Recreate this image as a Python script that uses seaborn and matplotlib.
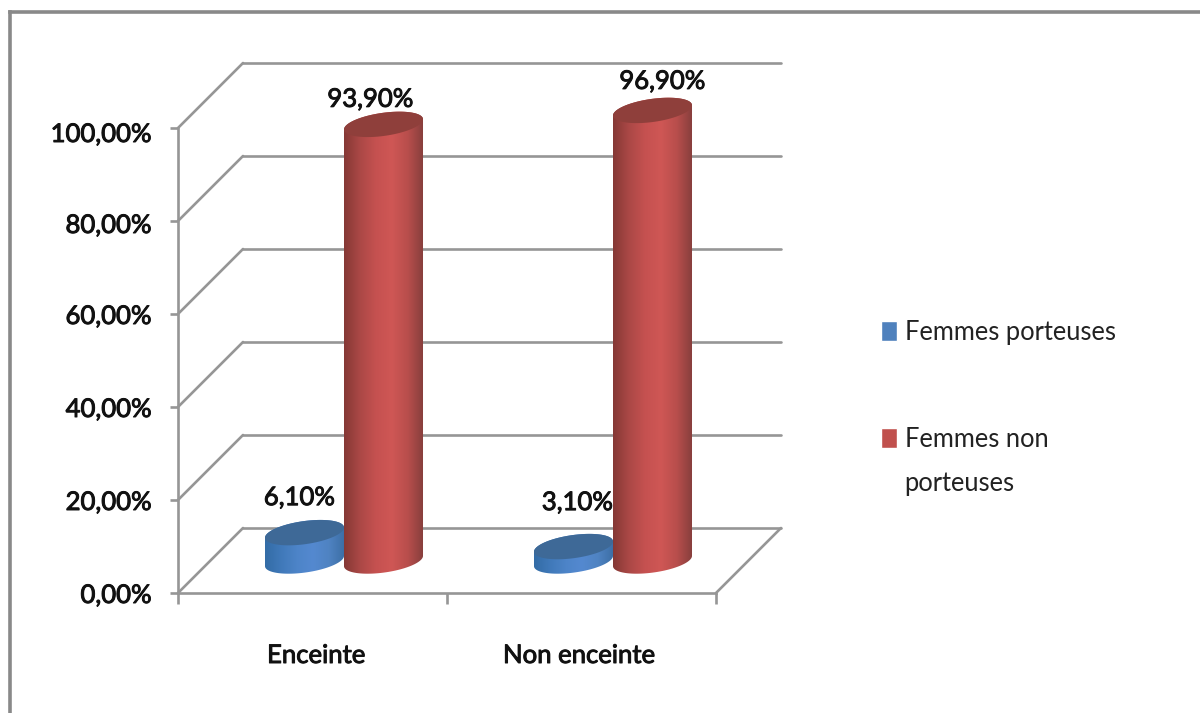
import numpy as np
import pandas as pd
import matplotlib
matplotlib.use("Agg")
import matplotlib.pyplot as plt
import matplotlib.patheffects as pe
import seaborn as sns
from matplotlib.colors import LinearSegmentedColormap
from matplotlib.lines import Line2D
from matplotlib.patches import Polygon
from matplotlib.transforms import Affine2D

# Survey values
categories = ["Enceinte", "Non enceinte"]
series_names = ["Femmes porteuses", "Femmes non porteuses"]
porteuses = [6.1, 3.1]
non_porteuses = [93.9, 96.9]
value_labels = [["6,10%", "3,10%"], ["93,90%", "96,90%"]]
y_ticks = [0, 20, 40, 60, 80, 100]
y_tick_labels = ["0,00%", "20,00%", "40,00%", "60,00%", "80,00%", "100,00%"]

W, H = 1200, 713
DPI = 100
GRID = "#969696"
TEXT = "#111111"
FONT = ["Lato", "DejaVu Sans"]
LABEL_SIZE = 18.5
HEAVY = [pe.withStroke(linewidth=0.7, foreground=TEXT)]

sns.set_theme(style="white")
plt.rcParams["font.family"] = FONT


def box(x0, y_top, x1, y_bottom):
    """Axes rectangle from pixel edges measured from the top-left corner."""
    return [x0 / W, 1 - y_bottom / H, (x1 - x0) / W, (y_bottom - y_top) / H]


def nudge(text, dx, dy):
    """Shift a tick label by a few pixels."""
    text.set_transform(text.get_transform() + Affine2D().translate(dx, dy))


fig = plt.figure(figsize=(W / DPI, H / DPI), dpi=DPI, facecolor="white")

# Outer chart frame: only the top and left edges fall inside the canvas
for xs, ys in (([9.5, 9.5], [0, 11.5]), ([9.5, W], [11.5, 11.5])):
    fig.add_artist(Line2D(np.array(xs) / W, [1 - v / H if v else 0 for v in ys],
                          color="#898989", lw=2.6, solid_capstyle="projecting"))

# Front plane: carries the value axis, the category axis and the wall grid
front = fig.add_axes(box(178, 128, 716, 593))
front.set_xlim(-0.5, 1.5)
front.set_ylim(0, 100)
for side in ("top", "right"):
    front.spines[side].set_visible(False)
for side in ("left", "bottom"):
    front.spines[side].set_color(GRID)
    front.spines[side].set_linewidth(1.9)

front.set_yticks(y_ticks, y_tick_labels, fontsize=LABEL_SIZE, color=TEXT)
front.tick_params(axis="y", length=6, width=1.9, color=GRID, pad=13, left=True)
front.set_xticks([-0.5, 0.5, 1.5], ["", "", ""])
front.tick_params(axis="x", which="major", length=8, width=1.9, color=GRID, bottom=True)
front.set_xticks([0, 1], categories, minor=True, fontsize=LABEL_SIZE, color=TEXT)
front.tick_params(axis="x", which="minor", length=0, pad=36)

fig.canvas.draw()
for label in front.get_yticklabels() + front.get_xticklabels(minor=True):
    label.set_path_effects(HEAVY)
y_labels = front.get_yticklabels()
nudge(y_labels[-1], 0, -4)
nudge(y_labels[-2], 0, -2)
x_labels = front.get_xticklabels(minor=True)
nudge(x_labels[0], 4, 0)
nudge(x_labels[1], -2, 0)

# Receding wall and floor lines, shifted back by the chart's depth
back = front.transData + Affine2D().translate(65, 65)
for tick in y_ticks:
    depth = Line2D([0, 65], [0, 65], color=GRID, lw=1.9, clip_on=False,
                   transform=Affine2D().translate(*front.transData.transform((-0.5, tick))))
    front.add_line(depth)
    front.plot([-0.5, 1.5], [tick, tick], color=GRID, lw=1.9, clip_on=False, transform=back)
front.add_line(Line2D([0, 65], [0, 65], color=GRID, lw=1.9, clip_on=False,
                      transform=Affine2D().translate(*front.transData.transform((1.5, 0)))))

# Mid-depth plane: the cylinders stand here
bars_ax = fig.add_axes(box(209.5, 96, 747.5, 561))
bars_ax.patch.set_visible(False)

frame = pd.DataFrame({
    "categorie": categories * 2,
    "groupe": [series_names[0]] * 2 + [series_names[1]] * 2,
    "valeur": porteuses + non_porteuses,
})
sns.barplot(data=frame, x="categorie", y="valeur", hue="groupe", hue_order=series_names,
            palette=["#4f81bd", "#c0504d"], width=0.5874, ax=bars_ax, saturation=1,
            errorbar=None)
handles, _ = bars_ax.get_legend_handles_labels()
bars_ax.get_legend().remove()
bars_ax.set_xlim(-0.5, 1.5)
bars_ax.set_ylim(0, 100)

side_colours = [
    ["#336ca6", "#4079b9", "#4d84c8", "#5489d0", "#4f83c2", "#3c6ea5"],
    ["#853835", "#ab4846", "#c55150", "#cf5755", "#b84e4c", "#853e3c"],
]
cap_colours = ["#3e6997", "#8f3f3b"]
label_offsets = [[(-5, 35), (4, 44)], [(-13, 25), (10, 29)]]

# Half-height of the end ellipses and their tilt, in value units
cap_half = 2.5
cap_tilt = 1.1
t = np.linspace(0, 2 * np.pi, 181)
lower = np.linspace(np.pi, 2 * np.pi, 91)
upper = np.linspace(0, np.pi, 91)


def cap_outline(xc, half_width, level, angles):
    return np.column_stack([
        xc + half_width * np.cos(angles),
        level + cap_tilt * np.cos(angles) + cap_half * np.sin(angles),
    ])


for s, container in enumerate(bars_ax.containers):
    cmap = LinearSegmentedColormap.from_list(f"side{s}", side_colours[s])
    z = 2 if s == 0 else 4
    for c, bar in enumerate(container):
        left, width, value = bar.get_x(), bar.get_width(), bar.get_height()
        bar.set_visible(False)
        xc, half = left + width / 2, width / 2

        base = cap_outline(xc, half, 0, lower)
        top = cap_outline(xc, half, value, upper)
        body = Polygon(np.vstack([top, base]), closed=True, facecolor="none", edgecolor="none",
                       transform=bars_ax.transData)
        bars_ax.add_patch(body)
        shade = bars_ax.imshow(np.linspace(0, 1, 256)[None, :], cmap=cmap, aspect="auto",
                               extent=[left, left + width, -5, value + 5],
                               interpolation="bilinear", zorder=z)
        shade.set_clip_path(body)
        shade.set_clip_box(fig.bbox)

        cap = Polygon(cap_outline(xc, half, value, t), closed=True,
                      facecolor=cap_colours[s], edgecolor="none", zorder=z + 0.1)
        bars_ax.add_patch(cap)
        cap.set_clip_on(False)
        bars_ax.annotate(value_labels[s][c], (xc, value), xytext=label_offsets[s][c],
                         textcoords="offset pixels", ha="center", va="center",
                         fontsize=LABEL_SIZE, path_effects=HEAVY,
                         color=TEXT, zorder=3, annotation_clip=False)

bars_ax.set_xlim(-0.5, 1.5)
bars_ax.set_ylim(0, 100)
bars_ax.axis("off")

legend = bars_ax.legend(handles, ["Femmes porteuses", "Femmes non\nporteuses"],
                        loc="upper left", bbox_to_anchor=(881 / W, 1 - 320 / H),
                        bbox_transform=fig.transFigure, frameon=False, fontsize=18.4,
                        handlelength=0.62, handleheight=0.82, handletextpad=0.3,
                        labelspacing=3.2, labelcolor="#222222", borderpad=0, borderaxespad=0)
for label in legend.get_texts():
    label.set_linespacing(1.97)
# The red key lines up with the first of its two text lines
red_key = legend.legend_handles[1]
red_key.set_y(red_key.get_y() + 17.8)

fig.savefig("out.png", dpi=DPI)
